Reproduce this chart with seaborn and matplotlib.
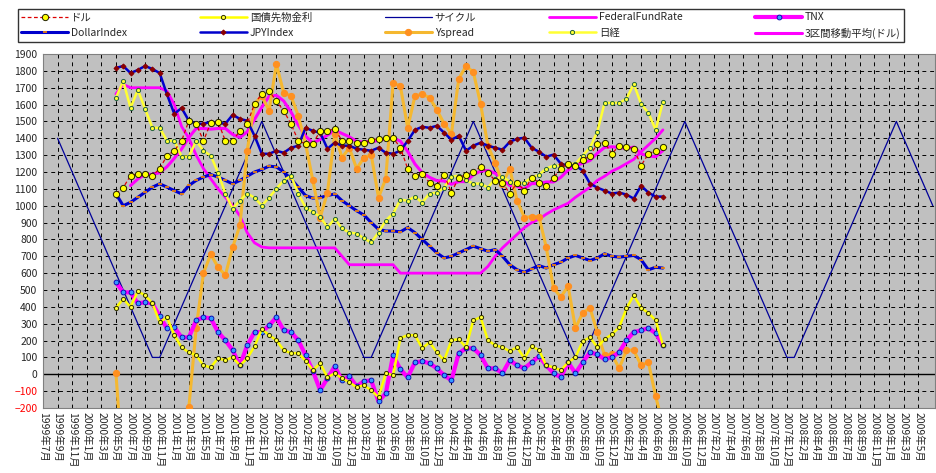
import numpy as np
import pandas as pd
import matplotlib
matplotlib.use("Agg")
import matplotlib.pyplot as plt
import seaborn as sns

tick_labels = (["1999年7月", "1999年9月", "1999年11月"]
    + ["2000年%d月" % m for m in (1, 3, 5, 7, 9, 11)]
    + ["2001年%d月" % m for m in (1, 3, 5, 7, 9, 11)]
    + ["2002年%d月" % m for m in (1, 3, 5, 7, 9, 10, 12)]
    + ["2003年%d月" % m for m in (2, 4, 6, 8, 10, 12)]
    + ["2004年%d月" % m for m in (2, 4, 6, 8, 10, 12)]
    + ["2005年%d月" % m for m in (2, 4, 6, 8, 10, 12)]
    + ["2006年%d月" % m for m in (2, 4, 6, 8, 10, 12)]
    + ["2007年%d月" % m for m in (2, 4, 6, 8, 10, 12)]
    + ["2008年%d月" % m for m in (2, 4, 6, 7, 9, 11)]
    + ["2009年%d月" % m for m in (1, 3, 5)])

data_start = 10  # first data month index (2000年5月)

dollar = [1072,1108,1178,1190,1190,1178,1220,1297,1326,1385,1504,
          1486,1385,1492,1498,1385,1385,1444,1486,1604,1663,
          1681,1620,1563,1486,1385,1367,1367,1444,1444,1456,
          1385,1385,1374,1374,1391,1397,1403,1403,1344,1220,
          1178,1190,1137,1119,1184,1078,1167,1184,1200,1232,
          1196,1149,1137,1072,1137,1090,1167,1137,1119,1167,
          1220,1249,1238,1270,1297,1367,1374,1308,1356,1350,
          1338,1238,1308,1326,1350]

jgb = [394,447,400,492,468,421,309,338,232,160,130,
       113,53,41,95,83,101,53,95,166,267,
       232,202,143,125,125,80,24,65,-18,6,
       -24,-47,-77,-65,-95,-136,6,-6,214,232,
       232,154,190,130,83,202,208,160,320,338,
       202,172,160,137,160,95,166,143,53,41,
       24,71,101,196,219,160,208,237,279,391,
       468,394,364,320,172]

cycle_start = 2
cycle = [1400,1300,1200,1100,1000,900,800,700,600,500,400,300,200,100,
         100,
         200,300,400,500,600,700,800,900,1000,1100,1200,1300,1400,1500,
         1400,1300,1200,1100,1000,900,800,700,600,500,400,300,200,100,
         100,
         200,300,400,500,600,700,800,900,1000,1100,1200,1300,1400,1500,
         1400,1300,1200,1100,1000,900,800,700,600,500,400,300,200,100,
         100,
         200,300,400,500,600,700,800,900,1000,1100,1200,1300,1400,1500,
         1400,1300,1200,1100,1000,900,800,700,600,500,400,300,200,100,
         100,
         200,300,400,500,600,700,800,900,1000,1100,1200,1300,1400,1500,
         1400,1300,1200,1100,1000]

ffr = [1663,1720,1700,1700,1700,1700,1700,1680,1600,1470,1400,
       1300,1220,1160,1100,1050,1000,940,840,780,755,
       750,750,750,750,750,750,750,750,750,750,
       700,650,650,650,650,650,650,650,600,600,
       600,600,600,600,600,600,600,600,600,600,
       640,700,750,790,830,870,900,920,950,975,
       995,1015,1050,1080,1110,1150,1175,1205,1225,1250,
       1275,1320,1360,1400,1450]

tnx = [546,486,486,421,427,421,344,273,279,219,219,
       320,338,332,250,202,143,53,172,250,250,
       290,338,261,250,202,113,20,-95,-24,47,
       -36,-12,-71,-41,-36,-160,-113,113,30,-18,
       71,77,65,35,-6,-36,125,154,154,113,
       35,35,6,83,53,35,71,106,53,6,
       -18,71,6,71,130,118,89,101,130,202,
       250,261,273,244,172]

dollar_index = [1070,1000,1020,1050,1080,1110,1130,1110,1090,1070,1120,
                1150,1170,1185,1170,1150,1130,1150,1175,1200,1215,
                1235,1230,1200,1160,1110,1060,1045,1048,1060,1070,
                1030,1000,970,945,900,860,850,850,845,870,
                840,800,760,720,690,700,720,740,760,745,
                730,740,700,650,620,605,625,645,630,650,
                665,690,705,690,675,690,715,700,695,700,
                705,680,620,635,630]

jpy_index = [1817,1829,1787,1805,1829,1811,1787,1660,1545,1580,1504,
             1486,1486,1498,1492,1486,1539,1515,1504,1415,1308,
             1308,1326,1314,1344,1356,1462,1444,1433,1338,1374,
             1356,1356,1338,1332,1326,1344,1314,1308,1326,1385,
             1450,1468,1462,1474,1433,1391,1415,1326,1356,1374,
             1356,1344,1332,1379,1397,1403,1344,1320,1291,1303,
             1249,1238,1238,1208,1131,1107,1090,1072,1078,1066,
             1042,1119,1078,1054,1054]

yspread = [6,-600,-600,-600,-600,-600,-600,-600,-600,-600,-195,
           273,600,712,635,588,753,883,1326,1604,1651,
           1563,1841,1669,1651,1533,1367,1150,930,1078,1426,
           1285,1344,1220,1285,1303,1048,1161,1728,1710,1462,
           1651,1663,1640,1569,1486,1426,1752,1829,1793,1604,
           1356,1255,1131,1220,1030,930,936,936,753,511,
           458,523,274,364,394,248,113,118,35,143,
           143,53,71,-130,-300]

nikkei = [1640,1740,1580,1687,1574,1462,1462,1385,1385,1291,1291,
          1385,1326,1297,1196,1072,983,1030,1072,1048,1001,
          1048,1101,1149,1178,1072,989,960,936,871,924,
          865,841,835,806,782,841,912,953,1036,1030,
          1054,1019,1072,1078,1107,1172,1178,1150,1131,1131,
          1107,1161,1172,1143,1131,1137,1167,1184,1220,1238,
          1238,1249,1249,1297,1344,1439,1610,1610,1610,1634,
          1722,1604,1551,1450,1616]

n = len(dollar)
df = pd.DataFrame({
    "m": np.arange(data_start, data_start + n),
    "ドル": dollar, "国債先物金利": jgb, "FederalFundRate": ffr, "TNX": tnx,
    "DollarIndex": dollar_index, "JPYIndex": jpy_index, "Yspread": yspread,
    "日経": nikkei,
})
df["3区間移動平均(ドル)"] = df["ドル"].rolling(3).mean()
dfc = pd.DataFrame({"m": np.arange(cycle_start, cycle_start + len(cycle)), "サイクル": cycle})

sns.set_style("white")
plt.rcParams["font.family"] = ["Noto Sans CJK JP", "DejaVu Sans"]

fig = plt.figure(figsize=(9.37, 4.73), dpi=100)
ax = fig.add_axes([43/937, 1-408/473, (935-43)/937, (408-54)/473])
ax.set_facecolor("#C0C0C0")

def draw(data, col, label, **kw):
    sns.lineplot(data=data, x="m", y=col, ax=ax, label=label, sort=False, **kw)

draw(dfc, "サイクル", "サイクル", color="#000099", lw=0.9, zorder=3)
draw(df, "FederalFundRate", "FederalFundRate", color="#FF00FF", lw=2, zorder=4)
draw(df, "DollarIndex", "DollarIndex", color="#0000CC", lw=2.2, marker="_",
     ms=3, mec="#FF8C00", mew=1.2, zorder=5)
draw(df, "3区間移動平均(ドル)", "3区間移動平均(ドル)", color="#FF00FF", lw=2.2, zorder=5)
draw(df, "Yspread", "Yspread", color="#F5B830", lw=2.2, marker="o", ms=4.5,
     mfc="#FF9020", mec="#FF9020", zorder=6)
draw(df, "日経", "日経", color="#FFFF33", lw=1.8, marker="o", ms=3,
     mfc="#FFFF33", mec="#206040", mew=0.7, zorder=6)
draw(df, "JPYIndex", "JPYIndex", color="#0000CC", lw=1.8, marker="D", ms=2.5,
     mfc="#8B0000", mec="#8B0000", zorder=7)
draw(df, "TNX", "TNX", color="#FF00FF", lw=3, marker="o", ms=3.5,
     mfc="#3399FF", mec="#0000AA", mew=0.6, zorder=7)
draw(df, "国債先物金利", "国債先物金利", color="#FFFF00", lw=1.8, marker="o", ms=3,
     mfc="#FFFF33", mec="#303000", mew=0.7, zorder=8)
draw(df, "ドル", "ドル", color="#DD0000", lw=0.9, linestyle=(0, (3, 2)), marker="o",
     ms=4.5, mfc="#FFFF00", mec="#202000", mew=0.7, zorder=9)

ax.set_xlim(0, 122.3)
ax.set_ylim(-200, 1900)
ax.set_yticks(np.arange(-200, 1901, 100))
ax.set_xticks(np.arange(0, 2 * len(tick_labels), 2))
ax.set_xticklabels(tick_labels, rotation=-90, fontsize=7.5, va="top", ha="center")
ax.tick_params(axis="y", labelsize=7.5, length=0, pad=4)
ax.tick_params(axis="x", length=0, pad=3)
for t in ax.get_yticklabels():
    if t.get_text().startswith("−") or t.get_text().startswith("-"):
        t.set_color("red")
ax.grid(True, color="black", linestyle=(0, (4, 4)), lw=0.7)
ax.axhline(0, color="black", lw=1, zorder=2)
ax.set_axisbelow(True)
ax.set_xlabel("")
ax.set_ylabel("")
for s in ax.spines.values():
    s.set_color("#808080")

handles, labels = ax.get_legend_handles_labels()
hmap = dict(zip(labels, handles))
order = ["ドル", "DollarIndex", "国債先物金利", "JPYIndex", "サイクル", "Yspread",
         "FederalFundRate", "日経", "TNX", "3区間移動平均(ドル)"]
ax.get_legend().remove()
leg = fig.legend([hmap[o] for o in order], order, ncol=5, loc="upper left",
                 bbox_to_anchor=(18/937, 1-50/473, (904-18)/937, 41/473), mode="expand",
                 fontsize=7.5, frameon=True, fancybox=False, edgecolor="black",
                 handlelength=4.5, borderpad=0.3, labelspacing=0.5,
                 handletextpad=0.3, borderaxespad=0)
leg.get_frame().set_linewidth(1)

fig.savefig("out.png", dpi=100)
